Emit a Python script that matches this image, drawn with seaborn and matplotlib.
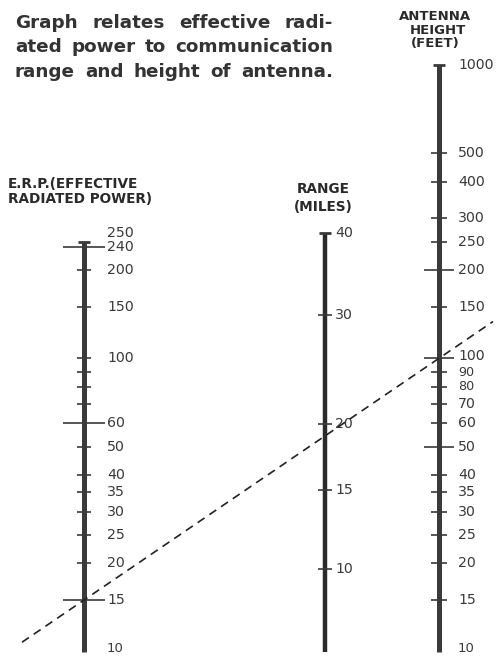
import numpy as np
import matplotlib
matplotlib.use("Agg")
import matplotlib.pyplot as plt
import matplotlib.transforms as mtransforms
import seaborn as sns

# --- nomograph data -------------------------------------------------------
erp_ticks = [240, 200, 150, 100, 90, 80, 70, 60, 50, 40, 35, 30, 25, 20, 15]
erp_long = [240, 60, 15]
erp_labels = [250, 240, 200, 150, 100, 60, 50, 40, 35, 30, 25, 20, 15, 10]
erp_min, erp_max = 10, 250

height_ticks = [500, 400, 300, 250, 200, 150, 100, 90, 80, 70, 60, 50,
                40, 35, 30, 25, 20, 15]
height_long = [200, 100, 50]
height_labels = [1000, 500, 400, 300, 250, 200, 150, 100, 90, 80, 70, 60,
                 50, 40, 35, 30, 25, 20, 15, 10]
height_min, height_max = 10, 1000

# range scale is non-uniform: calibration of each range value on the
# common log scale shared with the ERP and height scales
range_miles = [40, 30, 20, 15, 10]
range_on_common = [267, 140, 59.6, 35.7, 19.2]
range_bottom_common = 10

# example isopleth: ERP 15 -> antenna height 100 ft
example_erp = 15
example_height = 100

title_lines = ["Graph relates effective radi-",
               "ated power to communication",
               "range and height of antenna."]

# --- layout ---------------------------------------------------------------
W, H = 499, 657
X_ERP, X_RANGE, X_HEIGHT = 84, 325, 439
INK = "#3a3a3a"

sns.set_theme(style="white")
plt.rcParams['font.family'] = ['DejaVu Sans']

fig = plt.figure(figsize=(W / 100, H / 100), dpi=100)
fig.patch.set_facecolor("white")
ax = fig.add_axes([0, 0, 1, 1])
ax.set_xlim(0, W)
ax.set_yscale("log")
ppd = 293.4  # pixels per decade
ax.set_ylim(10 ** (1 - 5.3 / ppd), 10 ** (1 + 651.7 / ppd))
ax.axis("off")

label_kw = dict(color=INK, va="center", ha="left")


def draw_scale(x, vmin, vmax, ticks, long_ticks, lw, half, half_long):
    ax.vlines(x, vmin, vmax, color=INK, lw=lw, zorder=3)
    ax.hlines(vmax, x - 6, x + 6, color=INK, lw=2, zorder=3)
    for t in ticks:
        h = half_long if t in long_ticks else half
        ax.hlines(t, x - h, x + h, color=INK, lw=1.2, zorder=3)


def offset(dy_pt):
    return ax.transData + mtransforms.ScaledTranslation(0, dy_pt / 72, fig.dpi_scale_trans)


# E.R.P. scale
draw_scale(X_ERP, erp_min, erp_max, erp_ticks, erp_long, 3.6, 7, 21)
for v in erp_labels:
    dy = 6.5 if v == 250 else (2 if v == 10 else 0)
    fs = 9.5 if v == 10 else 10.2
    ax.text(X_ERP + 23, v, str(v), transform=offset(dy), fontsize=fs, **label_kw)

# antenna height scale
draw_scale(X_HEIGHT, height_min, height_max, height_ticks, height_long, 3.6, 8, 15)
small = {90: 9.2, 80: 9.2, 10: 9.5}
shift = {100: 1.5, 90: -0.3, 10: 2}
for v in height_labels:
    ax.text(X_HEIGHT + 19, v, str(v), transform=offset(shift.get(v, 0)),
            fontsize=small.get(v, 10.2), **label_kw)

# range scale
ax.vlines(X_RANGE, range_bottom_common, range_on_common[0], color="#2a2a2a",
          lw=3.2, zorder=3)
ax.hlines(range_on_common[0], X_RANGE - 6, X_RANGE + 6, color=INK, lw=2, zorder=3)
for v, pos in zip(range_miles, range_on_common):
    if v != range_miles[0]:
        ax.hlines(pos, X_RANGE - 7, X_RANGE + 7, color=INK, lw=1.2, zorder=3)
    ax.text(X_RANGE + 10, pos, str(v), fontsize=10.2, **label_kw)

# dashed isopleth, extended past both outer scales
xs = np.array([22, 493])
frac = (xs - X_ERP) / (X_HEIGHT - X_ERP)
ys = 10 ** (np.log10(example_erp) + frac * (np.log10(example_height) - np.log10(example_erp)))
sns.lineplot(x=xs, y=ys, ax=ax, color="#222222", lw=1.2, zorder=4)
ax.lines[-1].set_dashes([5, 3.5])

# --- text -----------------------------------------------------------------
def px(x, y):
    return x / W, 1 - y / H


head_kw = dict(fontsize=9.8, fontweight="bold", color="#2a2a2a", va="center")
fig.text(*px(8, 184), "E.R.P.(EFFECTIVE", ha="left", **head_kw)
fig.text(*px(8, 199), "RADIATED POWER)", ha="left", **head_kw)
fig.text(*px(323, 189), "RANGE", ha="center", **head_kw)
fig.text(*px(323, 207), "(MILES)", ha="center", **head_kw)
ant_kw = dict(head_kw, fontsize=9.5)
fig.text(*px(435, 17), "ANTENNA", ha="center", **ant_kw)
fig.text(*px(438, 30), "HEIGHT", ha="center", **ant_kw)
fig.text(*px(435, 43), "(FEET)", ha="center", **ant_kw)

# justified title block
renderer = fig.canvas.get_renderer()
x_left, x_right = 15, 333
for i, line in enumerate(title_lines):
    words = line.split()
    y = 27.5 + i * 24.7
    texts = [fig.text(0, 0, w, fontsize=13.2, fontweight="bold",
                      color="#333333", va="baseline")
             for w in words]
    widths = [t.get_window_extent(renderer).width for t in texts]
    gap = (x_right - x_left - sum(widths)) / (len(words) - 1)
    x = x_left
    for t, w in zip(texts, widths):
        t.set_position(px(x, y))
        x += w + gap

fig.savefig("out.png", dpi=100)
